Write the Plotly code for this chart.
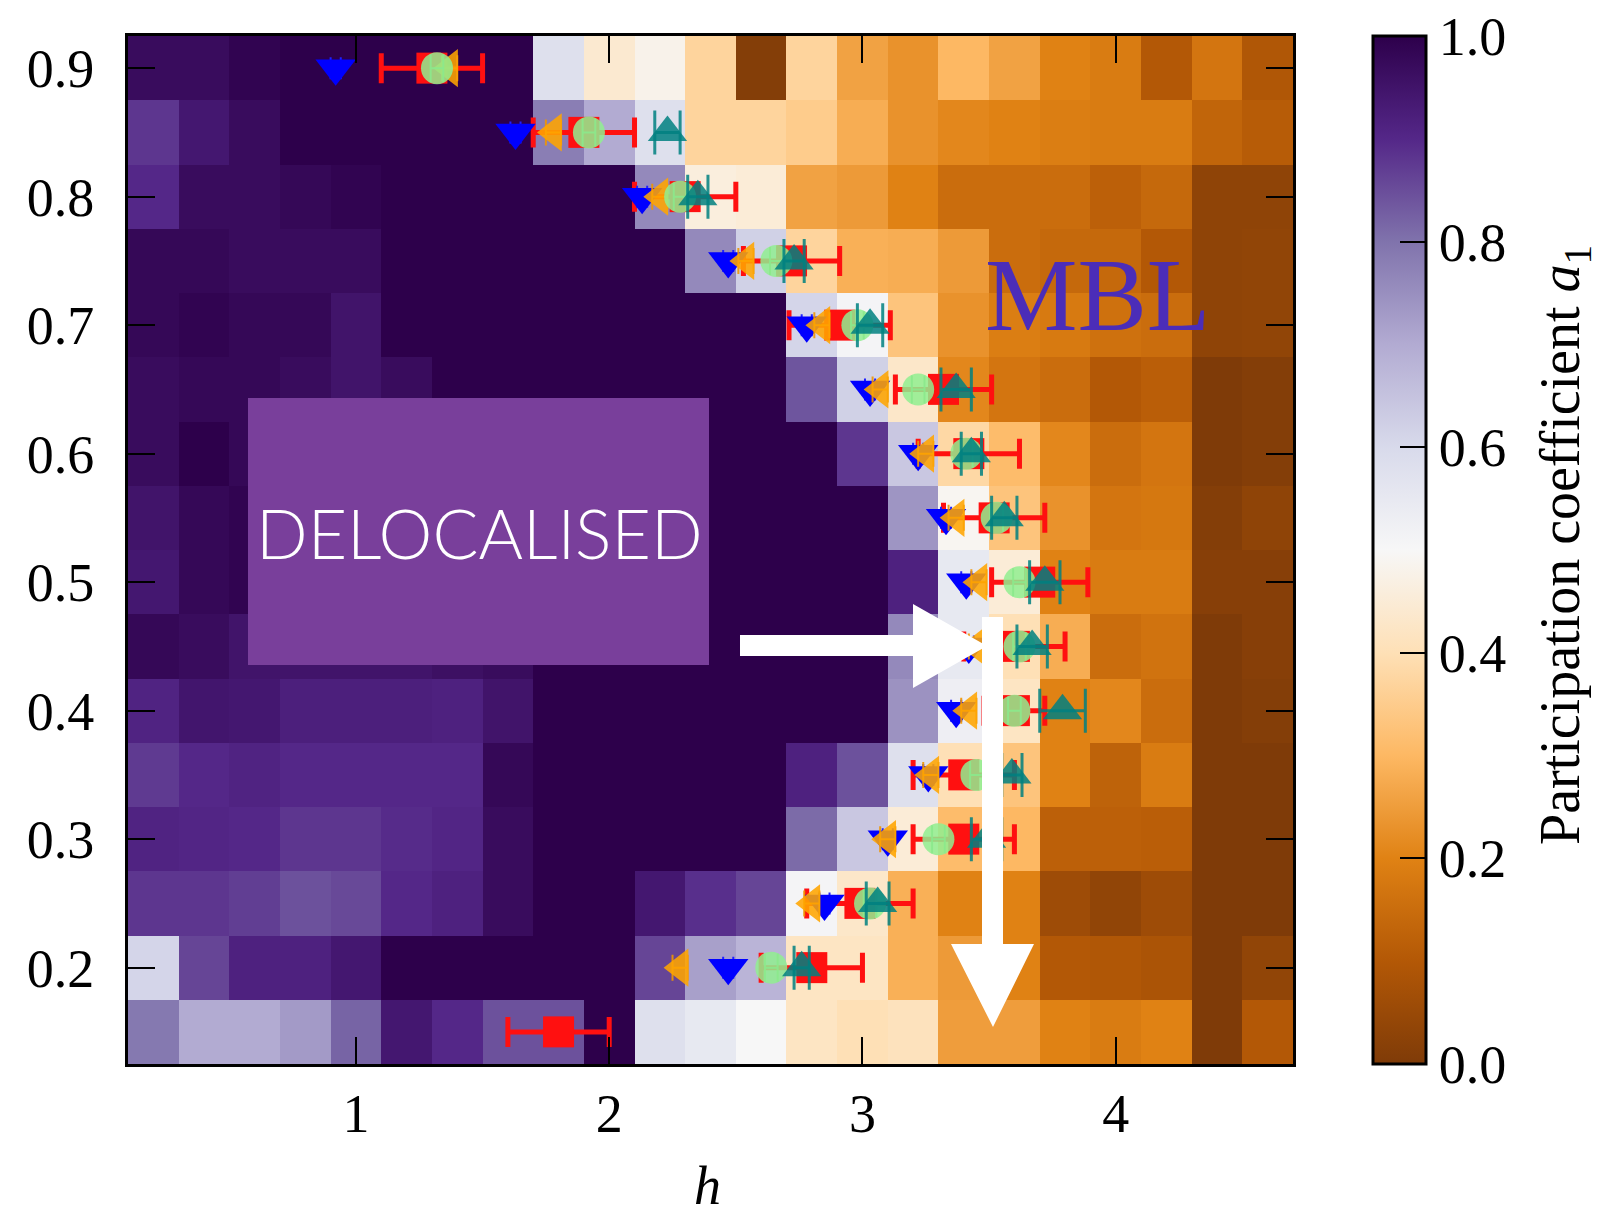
import plotly.graph_objects as go

# ---------------- data ----------------
h_centers = [0.2, 0.4, 0.6, 0.8, 1.0, 1.2, 1.4, 1.6, 1.8, 2.0, 2.2, 2.4,
             2.6, 2.8, 3.0, 3.2, 3.4, 3.6, 3.8, 4.0, 4.2, 4.4, 4.6]
energy_rows = [0.15, 0.2, 0.25, 0.3, 0.35, 0.4, 0.45, 0.5,
               0.55, 0.6, 0.65, 0.7, 0.75, 0.8, 0.85, 0.9]

# participation coefficient a1, one list per energy row (bottom -> top)
a1_rows = [
    [0.79, 0.70, 0.70, 0.73, 0.82, 0.94, 0.90, 0.845, 0.845, 1.0, 0.58, 0.55, 0.50, 0.42, 0.40, 0.41, 0.25, 0.25, 0.20, 0.185, 0.20, 0.0, 0.10],
    [0.61, 0.86, 0.915, 0.915, 0.94, 1.0, 1.0, 1.0, 1.0, 1.0, 0.86, 0.72, 0.68, 0.42, 0.42, 0.285, 0.245, 0.20, 0.10, 0.095, 0.085, 0.0, 0.035],
    [0.88, 0.88, 0.87, 0.845, 0.855, 0.90, 0.915, 0.97, 1.0, 1.0, 0.94, 0.89, 0.86, 0.51, 0.43, 0.285, 0.20, 0.20, 0.06, 0.035, 0.06, 0.0, 0.0],
    [0.91, 0.905, 0.90, 0.88, 0.88, 0.895, 0.905, 0.97, 1.0, 1.0, 1.0, 1.0, 1.0, 0.81, 0.64, 0.45, 0.31, 0.30, 0.12, 0.12, 0.115, 0.0, 0.0],
    [0.875, 0.90, 0.91, 0.90, 0.90, 0.90, 0.90, 0.98, 1.0, 1.0, 1.0, 1.0, 1.0, 0.915, 0.845, 0.58, 0.40, 0.33, 0.20, 0.125, 0.185, 0.0, 0.0],
    [0.91, 0.945, 0.94, 0.92, 0.92, 0.92, 0.915, 0.95, 1.0, 1.0, 1.0, 1.0, 1.0, 1.0, 1.0, 0.745, 0.53, 0.42, 0.20, 0.21, 0.15, 0.0, 0.01],
    [0.98, 0.97, 0.95, 0.95, 0.95, 0.95, 0.96, 0.97, 1.0, 1.0, 1.0, 1.0, 1.0, 1.0, 1.0, 0.76, 0.55, 0.40, 0.28, 0.15, 0.165, 0.0, 0.015],
    [0.94, 0.98, 0.99, 1.0, 1.0, 1.0, 1.0, 1.0, 1.0, 1.0, 1.0, 1.0, 1.0, 1.0, 1.0, 0.915, 0.55, 0.45, 0.20, 0.185, 0.185, 0.015, 0.015],
    [0.95, 0.98, 0.99, 0.99, 1.0, 1.0, 1.0, 1.0, 1.0, 1.0, 1.0, 1.0, 1.0, 1.0, 1.0, 0.74, 0.49, 0.33, 0.23, 0.17, 0.175, 0.01, 0.03],
    [0.97, 1.0, 0.98, 0.99, 0.99, 1.0, 1.0, 1.0, 1.0, 1.0, 1.0, 1.0, 1.0, 1.0, 0.88, 0.64, 0.38, 0.31, 0.21, 0.15, 0.17, 0.0, 0.01],
    [0.97, 0.98, 0.98, 0.97, 0.95, 0.97, 1.0, 1.0, 1.0, 1.0, 1.0, 1.0, 1.0, 0.84, 0.62, 0.43, 0.21, 0.17, 0.15, 0.10, 0.115, 0.0, 0.01],
    [0.98, 0.99, 0.98, 0.98, 0.95, 1.0, 1.0, 1.0, 1.0, 1.0, 1.0, 1.0, 1.0, 0.61, 0.51, 0.33, 0.23, 0.19, 0.18, 0.16, 0.15, 0.03, 0.035],
    [0.98, 0.98, 0.97, 0.97, 0.97, 1.0, 1.0, 1.0, 1.0, 1.0, 1.0, 0.76, 0.62, 0.37, 0.285, 0.28, 0.245, 0.15, 0.14, 0.14, 0.10, 0.03, 0.035],
    [0.90, 0.97, 0.97, 0.98, 0.99, 1.0, 1.0, 1.0, 1.0, 1.0, 0.76, 0.46, 0.45, 0.26, 0.245, 0.20, 0.15, 0.15, 0.15, 0.12, 0.14, 0.03, 0.03],
    [0.88, 0.94, 0.97, 1.0, 1.0, 1.0, 1.0, 1.0, 0.78, 0.70, 0.58, 0.37, 0.37, 0.35, 0.28, 0.23, 0.21, 0.20, 0.19, 0.185, 0.185, 0.13, 0.11],
    [0.97, 0.97, 0.99, 1.0, 1.0, 1.0, 1.0, 1.0, 0.58, 0.44, 0.48, 0.37, 0.01, 0.37, 0.26, 0.23, 0.30, 0.26, 0.20, 0.185, 0.10, 0.17, 0.095],
]

# transition estimates (energy density, critical h, uncertainty)
red_e = [0.9, 0.85, 0.8, 0.75, 0.7, 0.65, 0.6, 0.55, 0.5, 0.45, 0.4, 0.35, 0.3, 0.25, 0.2, 0.15]
red_h = [1.30, 1.90, 2.30, 2.72, 2.91, 3.32, 3.42, 3.52, 3.70, 3.60, 3.60, 3.40, 3.40, 2.99, 2.80, 1.80]
red_err = [0.20, 0.20, 0.20, 0.19, 0.20, 0.19, 0.20, 0.20, 0.19, 0.20, 0.12, 0.20, 0.20, 0.21, 0.20, 0.20]

blue_e = [0.9, 0.85, 0.8, 0.75, 0.7, 0.65, 0.6, 0.55, 0.5, 0.45, 0.4, 0.35, 0.3, 0.25, 0.2]
blue_h = [0.92, 1.63, 2.13, 2.47, 2.78, 3.03, 3.22, 3.33, 3.41, 3.42, 3.37, 3.26, 3.10, 2.85, 2.47]
blue_err = [0.02] * 15

orange_e = [0.9, 0.85, 0.8, 0.75, 0.7, 0.65, 0.6, 0.55, 0.5, 0.45, 0.4, 0.35, 0.3, 0.25, 0.2]
orange_h = [1.37, 1.78, 2.20, 2.54, 2.84, 3.07, 3.25, 3.37, 3.46, 3.45, 3.42, 3.27, 3.10, 2.80, 2.28]
orange_err = [0.03] * 15

green_e = [0.9, 0.85, 0.8, 0.75, 0.7, 0.65, 0.6, 0.55, 0.5, 0.45, 0.4, 0.35, 0.3, 0.25, 0.2]
green_h = [1.32, 1.92, 2.28, 2.66, 2.98, 3.22, 3.41, 3.53, 3.62, 3.62, 3.60, 3.45, 3.30, 3.03, 2.64]
green_err = [0.025] * 15

teal_e = [0.85, 0.8, 0.75, 0.7, 0.65, 0.6, 0.55, 0.5, 0.45, 0.4, 0.35, 0.3, 0.25, 0.2]
teal_h = [2.23, 2.35, 2.73, 3.03, 3.37, 3.43, 3.56, 3.72, 3.67, 3.79, 3.59, 3.49, 3.06, 2.76]
teal_err = [0.05, 0.04, 0.04, 0.05, 0.06, 0.04, 0.05, 0.06, 0.06, 0.09, 0.04, 0.06, 0.045, 0.03]

x_ticks = [1, 2, 3, 4]
y_ticks = [0.2, 0.3, 0.4, 0.5, 0.6, 0.7, 0.8, 0.9]
cbar_ticks = [0.0, 0.2, 0.4, 0.6, 0.8, 1.0]

# ---------------- styling ----------------
SERIF = "Liberation Serif, Times New Roman, serif"
PUOR = ['rgb(127,59,8)', 'rgb(179,88,6)', 'rgb(224,130,20)', 'rgb(253,184,99)',
        'rgb(254,224,182)', 'rgb(247,247,247)', 'rgb(216,218,235)',
        'rgb(178,171,210)', 'rgb(128,115,172)', 'rgb(84,39,136)', 'rgb(45,0,75)']
colorscale = [[i / (len(PUOR) - 1), c] for i, c in enumerate(PUOR)]

W, H = 1599, 1220
PL, PR, PT, PB = 128, 1293, 36, 1064   # plot area in pixels


def px(x):
    return (x - PL) / (PR - PL)


def py(y):
    return (PB - y) / (PB - PT)


def poly(points):
    return "M " + " L ".join(f"{px(x):.5f},{py(y):.5f}" for x, y in points) + " Z"


fig = go.Figure()

fig.add_trace(go.Heatmap(
    x=h_centers, y=energy_rows, z=a1_rows,
    zmin=0, zmax=1, colorscale=colorscale,
    colorbar=dict(
        x=px(1363), xanchor="left", xref="paper",
        y=0.5, yanchor="middle", len=1, lenmode="fraction", ypad=0,
        thickness=53, outlinewidth=3, outlinecolor="black",
        ticks="inside", ticklen=27, tickwidth=2, tickcolor="black",
        tickvals=cbar_ticks, ticktext=[f"{v:.1f}" for v in cbar_ticks],
        tickfont=dict(family=SERIF, size=54, color="black"),
        tickprefix="\u2002",
    ),
    hoverinfo="skip",
))


def errx(vals, color, thick, cap):
    return dict(type="data", array=vals, visible=True, color=color,
                thickness=thick, width=cap)


fig.add_trace(go.Scatter(
    x=red_h, y=red_e, mode="markers", name="red",
    marker=dict(symbol="square", size=31, color="#FF1010"),
    error_x=errx(red_err, "#FF1010", 5, 15)))

fig.add_trace(go.Scatter(
    x=blue_h, y=blue_e, mode="markers", name="blue",
    marker=dict(symbol="triangle-down", size=35, color="#0000FF"),
    error_x=errx(blue_err, "#2020FF", 2, 11)))

fig.add_trace(go.Scatter(
    x=orange_h, y=orange_e, mode="markers", name="orange",
    marker=dict(symbol="triangle-left", size=33, color="rgba(255,165,0,0.88)"),
    error_x=errx(orange_err, "rgba(240,150,0,0.9)", 2, 13)))

fig.add_trace(go.Scatter(
    x=green_h, y=green_e, mode="markers", name="green",
    marker=dict(symbol="circle", size=32, color="rgba(144,238,144,0.85)"),
    error_x=errx(green_err, "rgba(110,200,110,0.9)", 2, 14)))

fig.add_trace(go.Scatter(
    x=teal_h, y=teal_e, mode="markers", name="teal",
    marker=dict(symbol="triangle-up", size=34, color="rgba(0,128,128,0.85)"),
    error_x=errx(teal_err, "rgba(0,128,128,0.85)", 3, 22)))

shapes = [
    # label box
    dict(type="rect", xref="paper", yref="paper", layer="above",
         x0=px(248), x1=px(709), y0=py(665), y1=py(398),
         fillcolor="#793F9B", line=dict(width=0)),
    # horizontal arrow
    dict(type="path", xref="paper", yref="paper", layer="above",
         path=poly([(740, 635), (913, 635), (913, 604), (987, 646),
                    (913, 688), (913, 656), (740, 656)]),
         fillcolor="white", line=dict(width=0)),
    # vertical arrow
    dict(type="path", xref="paper", yref="paper", layer="above",
         path=poly([(982, 617), (1003, 617), (1003, 944), (1034, 944),
                    (993, 1027), (951, 944), (982, 944)]),
         fillcolor="white", line=dict(width=0)),
]

annotations = [
    dict(text="DELOCALISED", x=px(479), y=py(532), xref="paper", yref="paper",
         showarrow=False, xanchor="center", yanchor="middle",
         font=dict(family="Lato, Roboto, sans-serif", size=68, color="white", weight=300)),
    dict(text="MBL", x=px(1097), y=py(294), xref="paper", yref="paper",
         showarrow=False, xanchor="center", yanchor="middle",
         font=dict(family=SERIF, size=104, color="#4B2DB8")),
    dict(text="<i>h</i>", x=px(707), y=py(1186), xref="paper", yref="paper",
         showarrow=False, xanchor="center", yanchor="middle",
         font=dict(family=SERIF, size=54, color="black")),
    dict(text="Participation coefficient <i>a</i><sub>1</sub>",
         x=px(1564), y=py(545), xref="paper", yref="paper", textangle=-90,
         showarrow=False, xanchor="center", yanchor="middle",
         font=dict(family=SERIF, size=56, color="black")),
]

axis_common = dict(
    showgrid=False, zeroline=False, showline=True, linecolor="black",
    linewidth=3, mirror="allticks", ticks="inside", ticklen=27,
    tickwidth=2, tickcolor="black",
    tickfont=dict(family=SERIF, size=54, color="black"),
)

fig.update_layout(
    width=W, height=H,
    margin=dict(l=PL, r=W - PR, t=PT, b=H - PB, pad=0),
    paper_bgcolor="white", plot_bgcolor="white",
    showlegend=False,
    xaxis=dict(range=[0.1, 4.7], tickvals=x_ticks,
               ticktext=[str(v) for v in x_ticks], ticklabelstandoff=0,
               **axis_common),
    yaxis=dict(range=[0.125, 0.925], tickvals=y_ticks,
               ticktext=[f"{v:.1f}" for v in y_ticks], ticklabelstandoff=20,
               **axis_common),
    shapes=shapes,
    annotations=annotations,
)

fig.write_html("out.html")
